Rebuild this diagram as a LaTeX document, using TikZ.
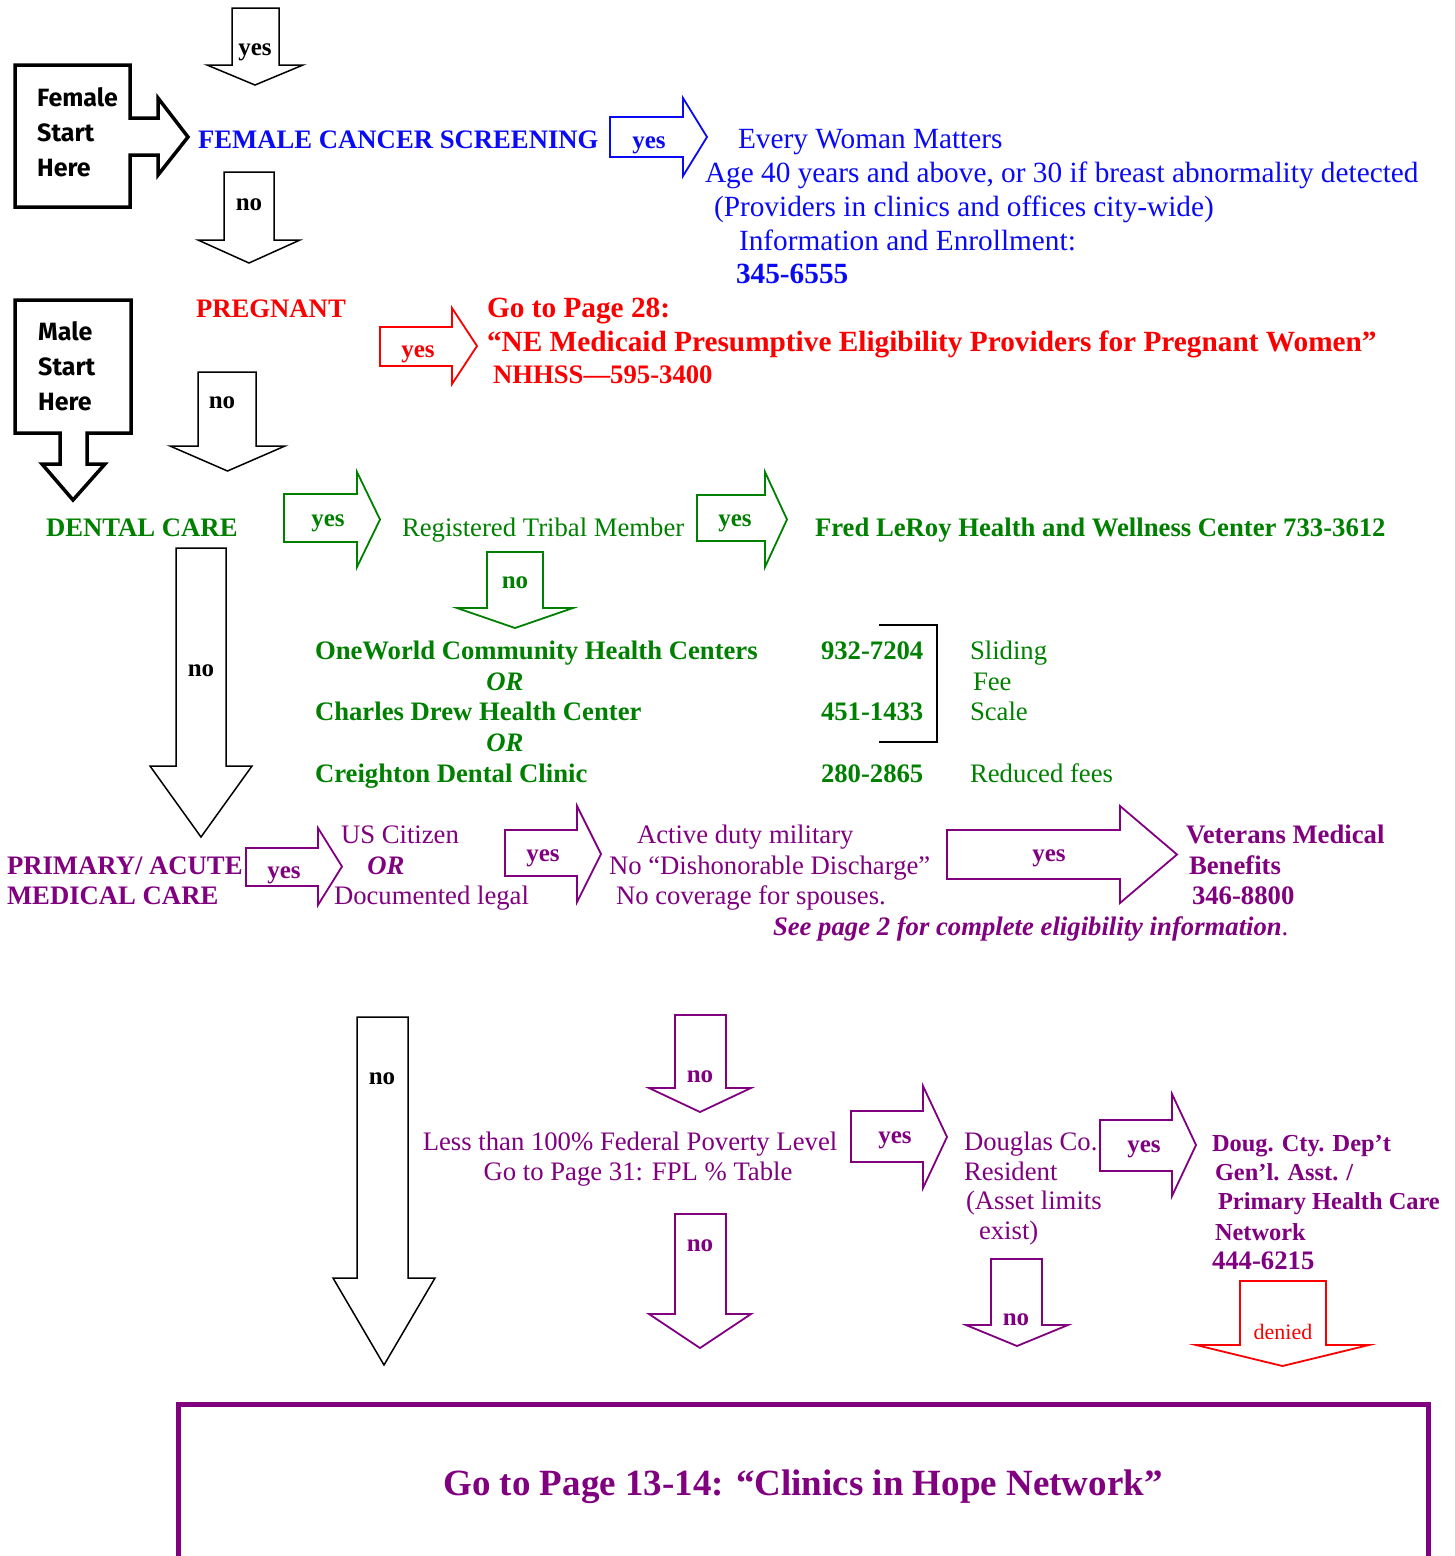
\documentclass[tikz,border=0pt]{standalone}
\usepackage{fontspec}
\setmainfont{Liberation Serif}
\newfontfamily\comicfont{Fira Sans}
\definecolor{cblue}{RGB}{10,10,245}
\definecolor{cred}{RGB}{250,0,0}
\definecolor{cgreen}{RGB}{0,128,0}
\definecolor{cpurple}{RGB}{128,0,128}
\newcommand\myDArr[8]{\draw[#1] (#2,#4) -- (#3,#4) -- (#3,#5) -- (#7,#5) -- ({(#6+#7)/2},#8) -- (#6,#5) -- (#2,#5) -- cycle;}
\newcommand\myRArr[8]{\draw[#1] (#2,#3) -- (#5,#3) -- (#5,#6) -- (#8,{(#6+#7)/2}) -- (#5,#7) -- (#5,#4) -- (#2,#4) -- cycle;}
\tikzset{
  txt/.style={inner sep=0pt, outer sep=0pt, font=\fontsize{26.7}{30}\selectfont},
  bt/.style={txt, font=\fontsize{26.7}{30}\selectfont\bfseries},
  bit/.style={txt, font=\fontsize{26.7}{30}\selectfont\bfseries\itshape},
  bigtxt/.style={inner sep=0pt, outer sep=0pt, font=\fontsize{29.3}{33}\selectfont},
  bigbt/.style={inner sep=0pt, outer sep=0pt, font=\fontsize{29.3}{33}\selectfont\bfseries},
  smbt/.style={inner sep=0pt, outer sep=0pt, font=\fontsize{24.4}{28}\selectfont\bfseries},
  lab/.style={inner sep=0pt, font=\fontsize{25}{30}\selectfont\bfseries, anchor=base},
  comic/.style={inner sep=0pt, anchor=base west, font=\fontsize{25}{28}\selectfont\comicfont\bfseries},
  blk/.style={draw=black, line width=1.5pt, line join=miter},
  blu/.style={draw=cblue, line width=1.8pt, line join=miter},
  rd/.style={draw=cred, line width=1.8pt, line join=miter},
  grn/.style={draw=cgreen, line width=1.8pt, line join=miter},
  pur/.style={draw=cpurple, line width=1.8pt, line join=miter},
}
\begin{document}
\begin{tikzpicture}[x=1pt,y=-1pt]
\useasboundingbox[fill=white] (0,0) rectangle (1455,1556);

% ---------- Start boxes ----------
\draw[line width=3.5pt, line join=miter] (15,65) -- (130,65) -- (130,118) -- (158,118) -- (158,98) -- (188,137) -- (158,175) -- (158,155) -- (130,155) -- (130,207) -- (15,207) -- cycle;
\node[comic] (f1) at (37,106) {Female};
\node[comic] (f2) at (37,141) {Start};
\node[comic] (f3) at (37,176) {Here};

\draw[line width=3.5pt, line join=miter] (15,300) -- (131,300) -- (131,433) -- (87,433) -- (87,464) -- (105,464) -- (73,500) -- (42,464) -- (60,464) -- (60,433) -- (15,433) -- cycle;
\node[comic] (m1) at (38,340) {Male};
\node[comic] (m2) at (38,375) {Start};
\node[comic] (m3) at (38,410) {Here};

% ---------- Female cancer screening ----------
\myDArr{blk}{232}{279}{8}{65}{207}{303}{85}
\node[lab] (y0) at (255,55) {yes};
\node[bt, text=cblue, anchor=base west] (fcs) at (198,148) {FEMALE CANCER SCREENING};
\myDArr{blk}{224}{274}{172}{240}{198}{300}{263}
\node[lab] (n0) at (249,210) {no};

\myRArr{blu}{610}{117}{157}{683}{98}{176}{707}
\node[lab, text=cblue] (y1) at (649,148) {yes};
\node[bigtxt, text=cblue, anchor=base west] (ewm1) at (738,148) {Every Woman Matters};
\node[bigtxt, text=cblue, anchor=base west] (ewm2) at (705,182) {Age 40 years and above, or 30 if breast abnormality detected};
\node[bigtxt, text=cblue, anchor=base west] (ewm3) at (714,216) {(Providers in clinics and offices city-wide)};
\node[bigtxt, text=cblue, anchor=base west] (ewm4) at (739,250) {Information and Enrollment:};
\node[bigbt, text=cblue, anchor=base west] (ewm5) at (736,283) {345-6555};

% ---------- Pregnant ----------
\node[bt, text=cred, anchor=base west] (preg) at (196,317) {PREGNANT};
\myRArr{rd}{380}{327}{366}{452}{308}{384}{477}
\node[lab, text=cred] (y2) at (418,357) {yes};
\node[bigbt, text=cred, anchor=base west] (p1) at (487,317) {Go to Page 28:};
\node[bigbt, text=cred, anchor=base west] (p2) at (487,351) {“NE Medicaid Presumptive Eligibility Providers for Pregnant Women”};
\node[bt, text=cred, anchor=base west] (p3) at (493,383) {NHHSS—595-3400};
\myDArr{blk}{198}{256}{372}{446}{170}{285}{471}
\node[lab] (n1) at (222,408) {no};

% ---------- Dental ----------
\node[bt, text=cgreen, anchor=base west] (dental) at (46,536) {DENTAL CARE};
\myRArr{grn}{284}{494}{542}{357}{472}{567}{380}
\node[lab, text=cgreen] (y3) at (328,526) {yes};
\node[txt, text=cgreen, anchor=base west] (tribal) at (402,536) {Registered Tribal Member};
\myRArr{grn}{697}{495}{541}{765}{472}{567}{787}
\node[lab, text=cgreen] (y4) at (735,526) {yes};
\node[bt, text=cgreen, anchor=base west] (fred) at (815,536) {Fred LeRoy Health and Wellness Center 733-3612};
\myDArr{grn}{487}{543}{552}{608}{457}{573}{628}
\node[lab, text=cgreen] (n2) at (515,588) {no};

\myDArr{blk}{176}{226}{548}{766}{150}{252}{837}
\node[lab] (n3) at (201,676) {no};

\node[bt, text=cgreen, anchor=base west] (c1) at (315,659) {OneWorld Community Health Centers};
\node[bit, text=cgreen, anchor=base] (or1) at (505,690) {OR};
\node[bt, text=cgreen, anchor=base west] (c2) at (315,720) {Charles Drew Health Center};
\node[bit, text=cgreen, anchor=base] (or2) at (505,751) {OR};
\node[bt, text=cgreen, anchor=base west] (c3) at (315,782) {Creighton Dental Clinic};
\node[bt, text=cgreen, anchor=base west] (ph1) at (821,659) {932-7204};
\node[bt, text=cgreen, anchor=base west] (ph2) at (821,720) {451-1433};
\node[bt, text=cgreen, anchor=base west] (ph3) at (821,782) {280-2865};
\draw[line width=1.8pt] (879,625) -- (937,625) -- (937,742) -- (879,742);
\node[txt, text=cgreen, anchor=base west] (s1) at (970,659) {Sliding};
\node[txt, text=cgreen, anchor=base west] (s2) at (973,690) {Fee};
\node[txt, text=cgreen, anchor=base west] (s3) at (970,720) {Scale};
\node[txt, text=cgreen, anchor=base west] (s4) at (970,782) {Reduced fees};

% ---------- Primary / acute ----------
\node[bt, text=cpurple, anchor=base west] (pa1) at (7,874) {PRIMARY/ ACUTE};
\node[bt, text=cpurple, anchor=base west] (pa2) at (7,904) {MEDICAL CARE};
\myRArr{pur}{246}{848}{886}{318}{828}{905}{342}
\node[lab, text=cpurple] (y5) at (284,878) {yes};
\node[txt, text=cpurple, anchor=base west] (us1) at (341,843) {US Citizen};
\node[bit, text=cpurple, anchor=base] (us2) at (386,874) {OR};
\node[txt, text=cpurple, anchor=base west] (us3) at (334,904) {Documented legal};
\myRArr{pur}{505}{830}{876}{577}{806}{902}{601}
\node[lab, text=cpurple] (y6) at (543,861) {yes};
\node[txt, text=cpurple, anchor=base west] (ad1) at (637,843) {Active duty military};
\node[txt, text=cpurple, anchor=base west] (ad2) at (609,874) {No “Dishonorable Discharge”};
\node[txt, text=cpurple, anchor=base west] (ad3) at (616,904) {No coverage for spouses.};
\myRArr{pur}{947}{830}{879}{1120}{806}{903}{1177}
\node[lab, text=cpurple] (y7) at (1049,861) {yes};
\node[bt, text=cpurple, anchor=base west] (v1) at (1186,843) {Veterans Medical};
\node[bt, text=cpurple, anchor=base west] (v2) at (1189,874) {Benefits};
\node[bt, text=cpurple, anchor=base west] (v3) at (1192,904) {346-8800};
\node[txt, text=cpurple, anchor=base west] (see) at (773,935) {\bfseries\itshape See page 2 for complete eligibility information\normalfont.};

% ---------- Lower section ----------
\myDArr{blk}{357}{408}{1017}{1278}{333}{435}{1365}
\node[lab] (n4) at (382,1084) {no};
\myDArr{pur}{675}{726}{1015}{1088}{649}{751}{1112}
\node[lab, text=cpurple] (n5) at (700,1082) {no};
\node[txt, text=cpurple, anchor=base] (fpl1) at (630,1150) {Less than 100\% Federal Poverty Level};
\node[txt, text=cpurple, anchor=base] (fpl2) at (638,1180) {Go to Page 31: FPL \% Table};
\myDArr{pur}{675}{726}{1214}{1314}{649}{751}{1348}
\node[lab, text=cpurple] (n6) at (700,1251) {no};
\myRArr{pur}{851}{1111}{1162}{923}{1086}{1188}{947}
\node[lab, text=cpurple] (y8) at (895,1143) {yes};
\node[txt, text=cpurple, anchor=base west] (dc1) at (964,1150) {Douglas Co.};
\node[txt, text=cpurple, anchor=base west] (dc2) at (964,1180) {Resident};
\node[txt, text=cpurple, anchor=base west] (dc3) at (966,1209) {(Asset limits};
\node[txt, text=cpurple, anchor=base west] (dc4) at (979,1239) {exist)};
\myRArr{pur}{1100}{1120}{1171}{1172}{1094}{1196}{1196}
\node[lab, text=cpurple] (y9) at (1144,1152) {yes};
\node[smbt, text=cpurple, anchor=base west] (g1) at (1212,1151) {Doug. Cty. Dep’t};
\node[smbt, text=cpurple, anchor=base west] (g2) at (1215,1180) {Gen’l. Asst. /};
\node[smbt, text=cpurple, anchor=base west] (g3) at (1218,1209) {Primary Health Care};
\node[smbt, text=cpurple, anchor=base west] (g4) at (1215,1240) {Network};
\node[bt, text=cpurple, anchor=base west] (g5) at (1212,1269) {444-6215};
\myDArr{pur}{991}{1042}{1259}{1325}{966}{1068}{1346}
\node[lab, text=cpurple] (n7) at (1016,1325) {no};
\myDArr{rd}{1240}{1326}{1281}{1345}{1196}{1369}{1366}
\node[inner sep=0pt, anchor=base, text=cred, font=\fontsize{22}{26}\selectfont] (den) at (1283,1339) {denied};

% ---------- Bottom box ----------
\draw[cpurple, line width=5pt] (178,1556) -- (178,1404) -- (1428,1404) -- (1428,1556);
\node[inner sep=0pt, anchor=base, text=cpurple, font=\fontsize{37}{42}\selectfont\bfseries] (hope) at (803,1495) {Go to Page 13-14: “Clinics in Hope Network”};
\end{tikzpicture}
\end{document}
